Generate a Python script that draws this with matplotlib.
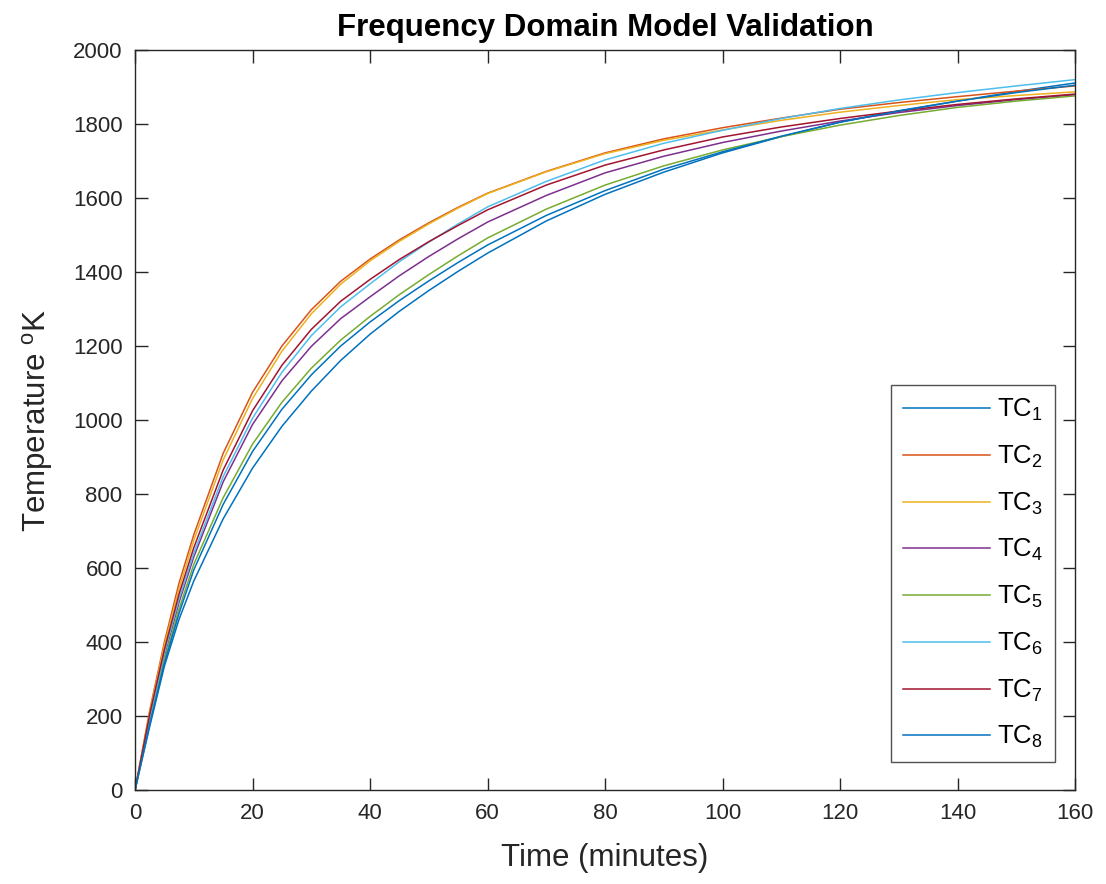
import matplotlib
matplotlib.use("Agg")
import matplotlib.pyplot as plt

time_min = [0, 2.5, 5, 7.5, 10, 15, 20, 25, 30, 35, 40, 45, 50, 55, 60,
            70, 80, 90, 100, 110, 120, 130, 140, 150, 160]

tc1 = [0, 172, 335, 462, 565, 733, 870, 983, 1078, 1161, 1232, 1294, 1350, 1402, 1451,
       1538, 1610, 1670, 1722, 1766, 1805, 1836, 1862, 1888, 1911]
tc2 = [0, 215, 400, 560, 690, 910, 1075, 1200, 1298, 1375, 1435, 1487, 1533, 1575, 1613,
       1672, 1722, 1760, 1790, 1816, 1840, 1858, 1874, 1889, 1903]
tc3 = [0, 210, 392, 545, 675, 892, 1058, 1186, 1287, 1367, 1430, 1483, 1530, 1573, 1612,
       1671, 1720, 1756, 1784, 1810, 1832, 1850, 1866, 1877, 1887]
tc4 = [0, 190, 362, 508, 630, 833, 988, 1106, 1199, 1274, 1333, 1390, 1442, 1490, 1535,
       1607, 1668, 1713, 1750, 1781, 1808, 1831, 1850, 1866, 1879]
tc5 = [0, 185, 352, 490, 610, 790, 935, 1048, 1140, 1216, 1280, 1339, 1393, 1444, 1492,
       1570, 1635, 1687, 1730, 1766, 1797, 1823, 1845, 1862, 1876]
tc6 = [0, 195, 370, 517, 640, 847, 1005, 1129, 1228, 1306, 1368, 1428, 1481, 1530, 1576,
       1645, 1703, 1748, 1783, 1815, 1842, 1865, 1885, 1903, 1920]
tc7 = [0, 205, 380, 530, 655, 865, 1025, 1148, 1245, 1321, 1380, 1434, 1482, 1526, 1568,
       1635, 1689, 1730, 1765, 1792, 1815, 1835, 1853, 1868, 1881]
tc8 = [0, 178, 343, 478, 595, 772, 915, 1029, 1122, 1200, 1265, 1323, 1376, 1426, 1473,
       1553, 1620, 1678, 1725, 1767, 1805, 1835, 1862, 1885, 1905]

series = [tc1, tc2, tc3, tc4, tc5, tc6, tc7, tc8]
labels = [r"TC$_{%d}$" % i for i in range(1, 9)]
colors = ["#0072BD", "#D95319", "#EDB120", "#7E2F8E", "#77AC30", "#4DBEEE", "#A2142F", "#0072BD"]

x_ticks = [0, 20, 40, 60, 80, 100, 120, 140, 160]
y_ticks = [0, 200, 400, 600, 800, 1000, 1200, 1400, 1600, 1800, 2000]

plt.rcParams["font.family"] = ["Liberation Sans", "DejaVu Sans"]
plt.rcParams["mathtext.fontset"] = "custom"
plt.rcParams["mathtext.rm"] = "Liberation Sans"
plt.rcParams["mathtext.it"] = "Liberation Sans:italic"
plt.rcParams["mathtext.bf"] = "Liberation Sans:bold"

axis_color = "#262626"

fig = plt.figure(figsize=(11.06, 8.84), dpi=100)
ax = fig.add_axes([0.1221, 0.1063, 0.8499, 0.8371])

for ys, lab, c in zip(series, labels, colors):
    ax.plot(time_min, ys, color=c, lw=1.1, label=lab)

ax.set_xlim(0, 160)
ax.set_ylim(0, 2000)
ax.set_xticks(x_ticks)
ax.set_yticks(y_ticks)
ax.tick_params(direction="in", length=9, width=1.0, colors=axis_color,
               labelsize=16, top=True, right=True, pad=9)
for sp in ax.spines.values():
    sp.set_color(axis_color)
    sp.set_linewidth(1.0)

ax.set_title("Frequency Domain Model Validation", fontsize=22.5, fontweight="bold",
             color="black", pad=10)
ax.set_xlabel("Time (minutes)", fontsize=22.5, color=axis_color, labelpad=14)
ax.set_ylabel(r"Temperature $^{\mathrm{o}}$K", fontsize=22.5, color=axis_color, labelpad=13)

leg = ax.legend(loc="lower right", bbox_to_anchor=(0.9787, 0.0378), borderaxespad=0,
                fontsize=18.5, handlelength=3.4, handletextpad=0.28, labelspacing=0.8,
                frameon=True, fancybox=False, edgecolor=axis_color, borderpad=0.45)
leg.get_frame().set_linewidth(1.0)

fig.savefig("out.png", dpi=100, facecolor="white")
